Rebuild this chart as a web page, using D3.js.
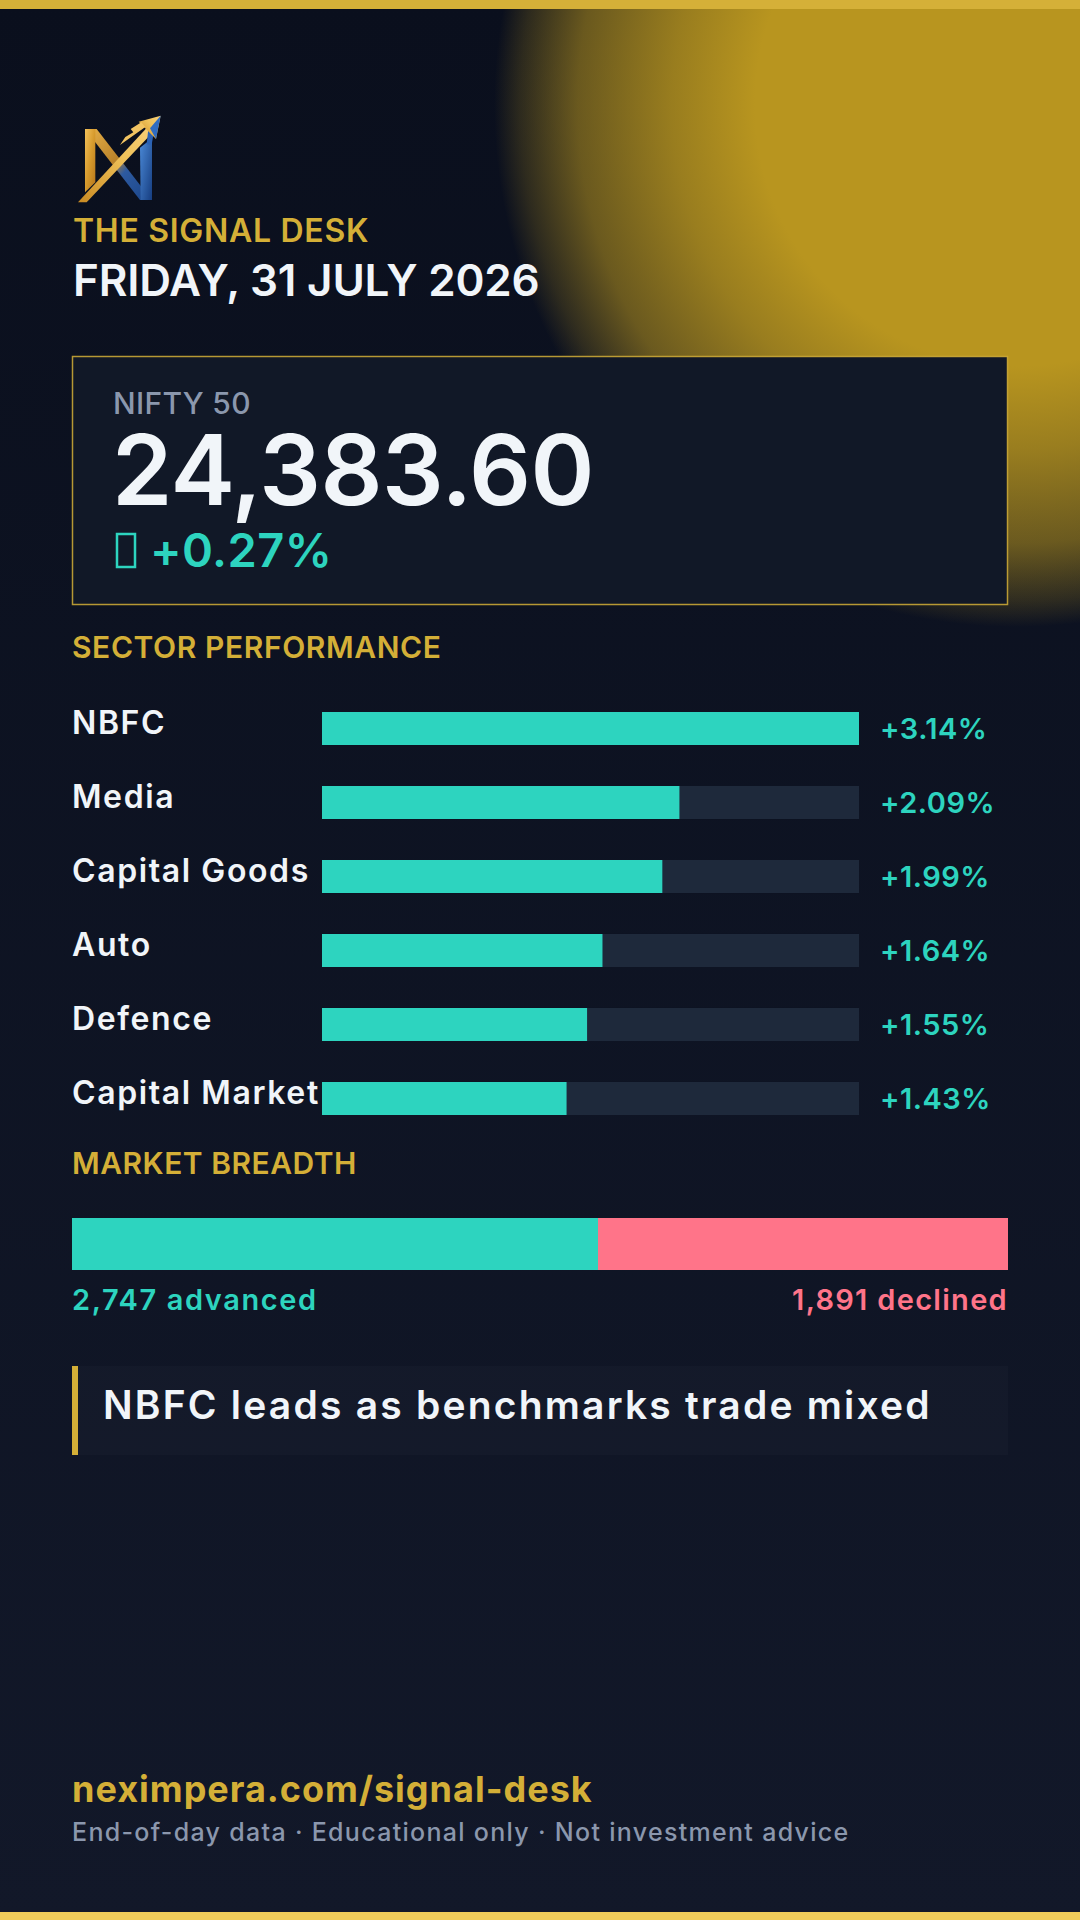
<!DOCTYPE html>
<html>
<head>
<meta charset="utf-8">
<script src="https://cdn.jsdelivr.net/npm/d3@7/dist/d3.min.js"></script>
<style>
  html, body { margin: 0; padding: 0; background: #0b1020; }
  svg { display: block; }
  text { font-family: Inter, "Noto Sans", sans-serif; }
</style>
</head>
<body>
<svg id="chart" width="1080" height="1920"></svg>
<script>
// ---------------- DATA ----------------
const brandName = "THE SIGNAL DESK";
const dateLabel = "FRIDAY, 31 JULY 2026";
const indexName = "NIFTY 50";
const indexValue = 24383.60;
const indexChangePct = 0.27;

const sectors = ["NBFC", "Media", "Capital Goods", "Auto", "Defence", "Capital Market"];
const sectorChange = [3.14, 2.09, 1.99, 1.64, 1.55, 1.43];

const breadthLabels = ["advanced", "declined"];
const breadthCounts = [2747, 1891];
const unchangedEstimate = 250;

const headline = "NBFC leads as benchmarks trade mixed";
const footerUrl = "neximpera.com/signal-desk";
const footerNote = "End-of-day data · Educational only · Not investment advice";

// ---------------- STYLE ----------------
const W = 1080, H = 1920;
const GOLD = "#d4af37", TEAL = "#2dd4bf", RED = "#ff7489", WHITE = "#f1f5f9", GRAY = "#8b97ad", TRACK = "#1e293b";

const svg = d3.select("#chart");
const defs = svg.append("defs");

// background gradient
const bg = defs.append("linearGradient").attr("id", "bg").attr("x1", 0).attr("y1", 0).attr("x2", 0).attr("y2", 1);
bg.append("stop").attr("offset", 0).attr("stop-color", "#0a0f1d");
bg.append("stop").attr("offset", 1).attr("stop-color", "#121829");
svg.append("rect").attr("width", W).attr("height", H).attr("fill", "url(#bg)");

// gold glow
const glow = defs.append("radialGradient").attr("id", "glow");
[[0, 1], [0.5, 1], [0.66, 0.82], [0.84, 0.55], [0.95, 0.2], [1, 0]].forEach(([o, a]) =>
  glow.append("stop").attr("offset", o).attr("stop-color", "#b8951f").attr("stop-opacity", a));
svg.append("circle").attr("cx", 1016).attr("cy", 105).attr("r", 522).attr("fill", "url(#glow)");

// top / bottom bars
svg.append("rect").attr("x", 0).attr("y", 0).attr("width", W).attr("height", 9).attr("fill", "#d5b038");
svg.append("rect").attr("x", 0).attr("y", 1912).attr("width", W).attr("height", 8).attr("fill", "#f0cc5a");

// ---------------- LOGO ----------------
const gGold = defs.append("linearGradient").attr("id", "lgGold").attr("x1", 0).attr("y1", 0).attr("x2", 1).attr("y2", 1);
gGold.append("stop").attr("offset", 0).attr("stop-color", "#f3c15a");
gGold.append("stop").attr("offset", 0.5).attr("stop-color", "#d69a2c");
gGold.append("stop").attr("offset", 1).attr("stop-color", "#b4741a");
const gBlue = defs.append("linearGradient").attr("id", "lgBlue").attr("x1", 0).attr("y1", 0).attr("x2", 1).attr("y2", 1);
gBlue.append("stop").attr("offset", 0).attr("stop-color", "#4b8ad8");
gBlue.append("stop").attr("offset", 1).attr("stop-color", "#163d80");
const gDiag = defs.append("linearGradient").attr("id", "lgDiag").attr("x1", 0).attr("y1", 0).attr("x2", 1).attr("y2", 1);
gDiag.append("stop").attr("offset", 0).attr("stop-color", "#e8b148");
gDiag.append("stop").attr("offset", 0.45).attr("stop-color", "#b9822a");
gDiag.append("stop").attr("offset", 0.6).attr("stop-color", "#2d5aa0");
gDiag.append("stop").attr("offset", 1).attr("stop-color", "#1a4489");
const gArrow = defs.append("linearGradient").attr("id", "lgArrow").attr("x1", 0).attr("y1", 1).attr("x2", 1).attr("y2", 0);
gArrow.append("stop").attr("offset", 0).attr("stop-color", "#c98a22");
gArrow.append("stop").attr("offset", 0.6).attr("stop-color", "#f0c25a");
gArrow.append("stop").attr("offset", 1).attr("stop-color", "#f7d07a");

const logo = svg.append("g").attr("transform", "translate(70,105) scale(0.3333)");
logo.append("path").attr("d", "M45,72 L80,72 L245,285 L210,285 Z").attr("fill", "url(#lgDiag)");
logo.append("path").attr("d", "M45,72 L76,72 L76,232 L45,262 Z").attr("fill", "url(#lgGold)");
logo.append("path").attr("d", "M210,128 L246,100 L246,285 L212,285 Z").attr("fill", "url(#lgBlue)");
logo.append("path").attr("d", "M24,292 L50,292 L252,78 L236,62 Z").attr("fill", "url(#lgArrow)");
logo.append("path").attr("d", "M236,62 L252,78 L245,120 L230,118 Z").attr("fill", "#2b62b5");
logo.append("path").attr("d", "M272,32 L206,50 L258,102 Z").attr("fill", "url(#lgArrow)");
logo.append("path").attr("d", "M272,32 L240,70 L258,102 Z").attr("fill", "#2f6cc2");
logo.append("path").attr("d", "M150,120 L166,96 L190,82 L182,72 L214,52 L226,66 Z").attr("fill", "#f2c462");

// ---------------- HEADER ----------------
svg.append("text").attr("x", 73).attr("y", 242).attr("fill", GOLD)
  .attr("font-size", 32).attr("font-weight", 600).attr("letter-spacing", 0.7).text(brandName);
svg.append("text").attr("x", 73).attr("y", 296).attr("fill", WHITE)
  .attr("font-size", 44).attr("font-weight", 600).attr("letter-spacing", -0.2).text(dateLabel);

// ---------------- INDEX BOX ----------------
svg.append("rect").attr("x", 72.5).attr("y", 356.5).attr("width", 935).attr("height", 248)
  .attr("fill", "#111827").attr("stroke", GOLD).attr("stroke-opacity", 0.85).attr("stroke-width", 1.5);
svg.append("text").attr("x", 113).attr("y", 414).attr("fill", GRAY)
  .attr("font-size", 30).attr("font-weight", 500).attr("letter-spacing", 0.3).text(indexName);
svg.append("text").attr("x", 112).attr("y", 505).attr("fill", WHITE)
  .attr("font-size", 97).attr("font-weight", 600).attr("letter-spacing", -0.5)
  .text(d3.format(",.2f")(indexValue));
// missing-glyph box shown before the change value in the reference
svg.append("rect").attr("x", 117).attr("y", 534).attr("width", 18).attr("height", 33)
  .attr("fill", "none").attr("stroke", TEAL).attr("stroke-width", 2.5);
svg.append("text").attr("x", 150).attr("y", 567).attr("fill", TEAL)
  .attr("font-size", 47).attr("font-weight", 600).attr("letter-spacing", 0.4)
  .text((indexChangePct >= 0 ? "+" : "") + indexChangePct.toFixed(2) + "%");

// ---------------- SECTOR PERFORMANCE ----------------
svg.append("text").attr("x", 72).attr("y", 658).attr("fill", GOLD)
  .attr("font-size", 30).attr("font-weight", 600).attr("letter-spacing", 0.6).text("SECTOR PERFORMANCE");

const y = d3.scaleBand().domain(sectors).range([712, 1115]).paddingInner(0.554).paddingOuter(0);
const x = d3.scaleLinear().domain([0, d3.max(sectorChange)]).range([322, 859]);
const rows = sectors.map((s, i) => ({ name: s, v: sectorChange[i] }));

const rowG = svg.append("g");
rowG.selectAll("text.lbl").data(rows).join("text").attr("class", "lbl")
  .attr("x", 72).attr("y", d => y(d.name) + 22)
  .attr("fill", WHITE).attr("font-size", 32).attr("font-weight", 600).attr("letter-spacing", 1.6).text(d => d.name);
rowG.selectAll("rect.track").data(rows).join("rect").attr("class", "track")
  .attr("x", x(0)).attr("y", d => y(d.name)).attr("width", x.range()[1] - x(0)).attr("height", y.bandwidth())
  .attr("fill", TRACK);
rowG.selectAll("rect.fill").data(rows).join("rect").attr("class", "fill")
  .attr("x", x(0)).attr("y", d => y(d.name)).attr("width", d => x(d.v) - x(0)).attr("height", y.bandwidth())
  .attr("fill", TEAL);
rowG.selectAll("text.val").data(rows).join("text").attr("class", "val")
  .attr("x", 880).attr("y", d => y(d.name) + 27)
  .attr("fill", TEAL).attr("font-size", 29).attr("font-weight", 600).attr("letter-spacing", 0.5)
  .text(d => "+" + d.v.toFixed(2) + "%");

// ---------------- MARKET BREADTH ----------------
svg.append("text").attr("x", 72).attr("y", 1174).attr("fill", GOLD)
  .attr("font-size", 30).attr("font-weight", 600).attr("letter-spacing", 0.5).text("MARKET BREADTH");

const bx = d3.scaleLinear().domain([0, breadthCounts[0] + breadthCounts[1] + unchangedEstimate]).range([72, 1008]);
svg.append("rect").attr("x", bx(0)).attr("y", 1218).attr("width", bx.range()[1] - bx(0)).attr("height", 52).attr("fill", RED);
svg.append("rect").attr("x", bx(0)).attr("y", 1218).attr("width", bx(breadthCounts[0]) - bx(0)).attr("height", 52).attr("fill", TEAL);
svg.append("text").attr("x", 72).attr("y", 1310).attr("fill", TEAL)
  .attr("font-size", 29).attr("font-weight", 600).attr("letter-spacing", 1.6)
  .text(d3.format(",")(breadthCounts[0]) + " " + breadthLabels[0]);
svg.append("text").attr("x", 1008).attr("y", 1310).attr("text-anchor", "end").attr("fill", RED)
  .attr("font-size", 29).attr("font-weight", 600).attr("letter-spacing", 1.3)
  .text(d3.format(",")(breadthCounts[1]) + " " + breadthLabels[1]);

// ---------------- HEADLINE ----------------
svg.append("rect").attr("x", 72).attr("y", 1366).attr("width", 936).attr("height", 89).attr("fill", "#ffffff").attr("fill-opacity", 0.018);
svg.append("rect").attr("x", 72).attr("y", 1366).attr("width", 6).attr("height", 89).attr("fill", GOLD);
svg.append("text").attr("x", 103).attr("y", 1419).attr("fill", WHITE)
  .attr("font-size", 39).attr("font-weight", 600).attr("letter-spacing", 2.2).text(headline);

// ---------------- FOOTER ----------------
svg.append("text").attr("x", 72).attr("y", 1802).attr("fill", GOLD)
  .attr("font-size", 36).attr("font-weight", 700).attr("letter-spacing", 1).text(footerUrl);
svg.append("text").attr("x", 72).attr("y", 1841).attr("fill", GRAY)
  .attr("font-size", 25).attr("font-weight", 500).attr("letter-spacing", 1.3).text(footerNote);
</script>
</body>
</html>
